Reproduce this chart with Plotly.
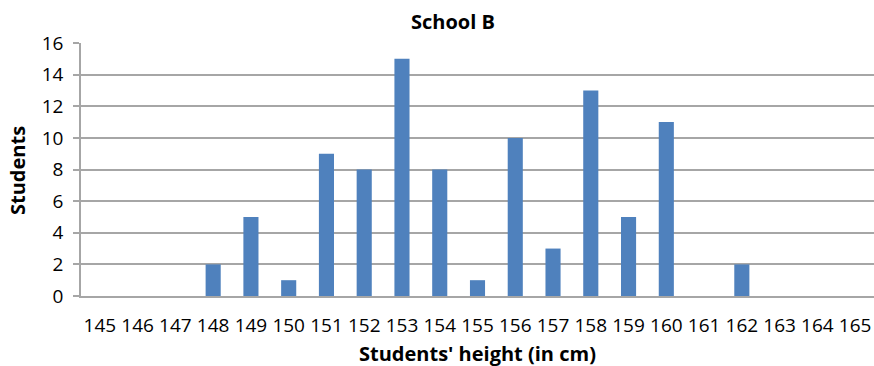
import plotly.graph_objects as go

heights = [str(h) for h in range(145, 166)]
students = [0, 0, 0, 2, 5, 1, 9, 8, 15, 8, 1, 10, 3, 13, 5, 11, 0, 2, 0, 0, 0]
y_ticks = [0, 2, 4, 6, 8, 10, 12, 14, 16]

FONT = "Open Sans"
GRID = "#a6a6a6"

fig = go.Figure(
    go.Bar(x=heights, y=students, marker=dict(color="#4f81bd", line=dict(width=0)))
)

fig.update_layout(
    width=874,
    height=366,
    margin=dict(l=81, r=0, t=43, b=70),
    paper_bgcolor="white",
    plot_bgcolor="white",
    bargap=0.6,
    showlegend=False,
    font=dict(family=FONT, size=19, color="#000000"),
)

fig.update_xaxes(
    type="category",
    showgrid=False,
    showline=True,
    linecolor=GRID,
    linewidth=1.5,
    ticks="",
    tickfont=dict(size=19),
    ticklabelstandoff=11,
)
fig.update_yaxes(
    range=[0, 16],
    tickvals=y_ticks,
    showgrid=True,
    gridcolor=GRID,
    gridwidth=1.5,
    showline=True,
    linecolor=GRID,
    linewidth=1.5,
    ticks="outside",
    ticklen=6,
    tickcolor=GRID,
    tickwidth=1.5,
    zeroline=False,
    tickfont=dict(size=19),
    ticklabelstandoff=6,
)

annotations = [
    dict(text="<b>School B</b>", x=453, y=21, font=dict(size=20)),
    dict(text="<b>Students' height (in cm)</b>", x=477, y=353, font=dict(size=20)),
    dict(text="<b>Students</b>", x=17, y=171, textangle=-90, font=dict(size=20)),
]

# Convert pixel placements into paper coordinates for the plot area
plot_left, plot_top, plot_w, plot_h = 81, 43, 874 - 81, 366 - 43 - 70
fixed = []
for a in annotations:
    a = dict(a)
    a["x"] = (a["x"] - plot_left) / plot_w
    a["y"] = 1 - (a["y"] - plot_top) / plot_h
    a.update(xref="paper", yref="paper", showarrow=False,
             xanchor="center", yanchor="middle")
    fixed.append(a)
fig.update_layout(annotations=fixed)

fig.write_html("out.html")
